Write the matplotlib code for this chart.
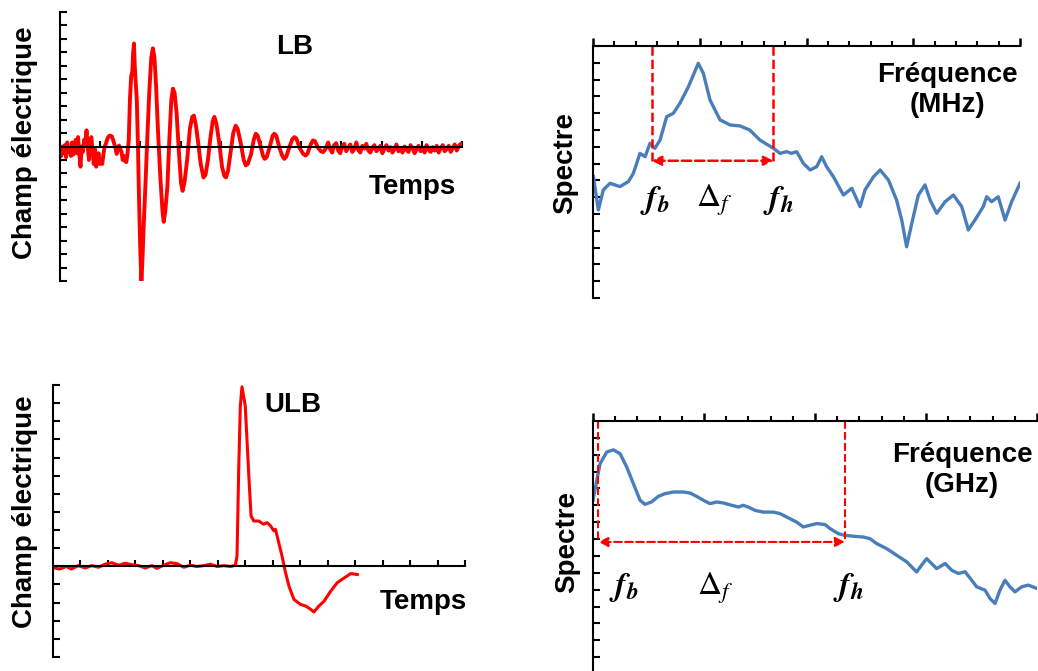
import numpy as np
import matplotlib
matplotlib.use("Agg")
import matplotlib.pyplot as plt
from matplotlib.ticker import MultipleLocator

plt.rcParams["font.family"] = ["Liberation Sans", "DejaVu Sans"]
plt.rcParams["mathtext.fontset"] = "stix"

# LB pulse: pre-trigger noise, ringing burst, tail noise
lb_noise_t = [0.00, 0.03, 0.06, 0.09, 0.12, 0.15, 0.18, 0.21, 0.24, 0.27, 0.30, 0.33, 0.36,
              0.39, 0.42, 0.45, 0.48, 0.51, 0.54, 0.57, 0.60, 0.63, 0.66, 0.69, 0.72, 0.75,
              0.78, 0.81, 0.84, 0.87, 0.90, 0.93, 0.96, 0.99, 1.02, 1.05, 1.08, 1.11, 1.14,
              1.17, 1.20, 1.23, 1.26, 1.29, 1.32, 1.35, 1.38, 1.41, 1.44, 1.47, 1.50, 1.53,
              1.56, 1.59, 1.62, 1.65, 1.68]
lb_noise_e = [-0.1, -0.7, 0.0, -0.5, 0.1, -0.8, 0.3, -0.4, -0.2, -0.7, 0.3, -0.6, -0.3, 0.5,
              -0.5, 0.7, -0.6, -1.5, 0.0, -0.4, 0.5, 0.3, 1.2, 0.0, -1.0, 0.4, 0.7, -0.4, -1.3,
              -0.2, -1.5, -0.8, -0.5, -1.3, -1.0, -1.3, -0.6, 0.0, 0.2, 0.5, 0.7, 0.8, 0.8,
              0.75, 0.5, 0.2, -0.1, -0.55, -0.2, 0.07, -0.2, -0.4, -1.0, -0.7, -1.1, -1.16, -0.5]
lb_burst_t = [1.71, 1.74, 1.77, 1.80, 1.82, 1.84, 1.86, 1.88, 1.91, 1.94, 1.97, 2.00, 2.025,
              2.05, 2.08, 2.13, 2.17, 2.22, 2.27, 2.31, 2.35, 2.39, 2.44, 2.50, 2.55, 2.58,
              2.62, 2.67, 2.72, 2.77, 2.81, 2.85, 2.90, 2.96, 3.01, 3.05, 3.10, 3.17, 3.23,
              3.29, 3.33, 3.38, 3.44, 3.50, 3.57, 3.62, 3.68, 3.74, 3.80, 3.84, 3.89, 3.96,
              4.03, 4.09, 4.13, 4.18, 4.25, 4.31, 4.37, 4.42, 4.50, 4.57, 4.62, 4.67, 4.75,
              4.82, 4.87, 4.92, 5.00, 5.05, 5.09, 5.14, 5.22, 5.29, 5.33, 5.38, 5.46, 5.53,
              5.58, 5.63, 5.71, 5.78, 5.83, 5.88, 5.96, 6.05, 6.11, 6.16, 6.23, 6.29, 6.34,
              6.42, 6.49, 6.54, 6.58]
lb_burst_e = [0.45, 3.5, 5.2, 5.6, 7.0, 7.66, 6.0, 4.9, 3.5, 0.0, -4.5, -8.0, -10.0, -8.5,
              -6.0, -2.5, 0.5, 4.0, 6.6, 7.3, 6.6, 4.5, 1.0, -2.5, -4.8, -5.6, -4.8, -3.0,
              0.5, 3.5, 4.3, 4.0, 2.5, -0.5, -2.7, -3.3, -2.6, -0.8, 1.3, 2.2, 2.3, 1.6, 0.2,
              -1.3, -2.3, -2.1, -1.0, 0.6, 1.9, 2.2, 1.7, 0.3, -1.5, -2.2, -2.3, -1.8, -0.3,
              1.0, 1.55, 1.3, 0.2, -1.0, -1.4, -1.3, -0.6, 0.5, 0.95, 0.8, -0.1, -0.7, -0.92,
              -0.8, 0.0, 0.8, 0.95, 0.8, -0.1, -0.7, -0.92, -0.75, 0.0, 0.55, 0.7, 0.6, -0.1,
              -0.55, -0.67, -0.5, 0.1, 0.45, 0.4, -0.1, -0.35, -0.42, -0.3]
lb_tail_t = [6.62, 6.67, 6.72, 6.77, 6.82, 6.87, 6.92, 6.97, 7.02, 7.07, 7.12, 7.17, 7.22,
             7.27, 7.32, 7.37, 7.42, 7.47, 7.52, 7.57, 7.62, 7.67, 7.72, 7.77, 7.82, 7.87,
             7.92, 7.97, 8.02, 8.07, 8.12, 8.17, 8.22, 8.27, 8.32, 8.37, 8.42, 8.47, 8.52,
             8.57, 8.62, 8.67, 8.72, 8.77, 8.82, 8.87, 8.92, 8.97, 9.02, 9.07, 9.12, 9.17,
             9.22, 9.27, 9.32, 9.37, 9.42, 9.47, 9.52, 9.57, 9.62, 9.67, 9.72, 9.77, 9.82,
             9.87, 9.92, 9.97, 10.0]
lb_tail_e = [-0.1, 0.3, -0.2, -0.45, 0.1, 0.25, -0.3, -0.5, 0.0, 0.2, -0.35, -0.1, 0.15,
             -0.4, -0.2, 0.3, -0.25, -0.45, 0.05, -0.15, 0.2, -0.3, -0.45, -0.1, 0.1, -0.35,
             -0.2, 0.05, -0.5, -0.15, 0.1, -0.3, -0.05, -0.45, -0.2, 0.15, -0.35, -0.1,
             -0.45, 0.0, -0.25, -0.4, 0.1, -0.15, -0.5, -0.2, 0.05, -0.35, -0.1, -0.45, 0.1,
             -0.25, -0.4, -0.05, -0.3, 0.05, -0.45, -0.15, 0.1, -0.35, -0.2, 0.05, -0.4,
             -0.1, 0.15, -0.3, 0.05, 0.2, 0.1]

# ULB pulse
ulb_t = [0.0, 0.24, 0.49, 0.67, 0.92, 1.17, 1.41, 1.66, 1.90, 2.14, 2.39, 2.63, 2.87, 3.12,
         3.36, 3.60, 3.78, 4.03, 4.27, 4.51, 4.76, 5.00, 5.24, 5.49, 5.73, 5.98, 6.22,
         6.46, 6.64, 6.70, 6.76, 6.82, 6.88, 7.00, 7.12, 7.21, 7.31, 7.49, 7.67, 7.80,
         7.92, 8.04, 8.10, 8.22, 8.34, 8.46, 8.59, 8.77, 9.01, 9.20, 9.38, 9.50, 9.68,
         9.87, 10.11, 10.35, 10.60, 10.84, 11.08]
ulb_e = [-0.07, -0.15, -0.01, -0.15, 0.04, -0.09, 0.04, -0.05, 0.12, 0.20, 0.06, 0.17, 0.09,
         0.04, -0.09, 0.04, -0.11, 0.06, 0.20, 0.15, -0.05, 0.06, -0.01, 0.04, 0.12, -0.01,
         0.04, -0.01, 0.06, 0.58, 5.26, 8.84, 9.90, 8.84, 5.26, 2.78, 2.50, 2.50, 2.32,
         2.41, 2.23, 1.96, 2.04, 1.30, 0.56, -0.31, -1.09, -1.82, -2.10, -2.19, -2.37,
         -2.52, -2.19, -1.92, -1.37, -0.90, -0.64, -0.40, -0.45]

# LB spectrum (MHz)
mhz_f = [0.02, 0.25, 0.48, 0.80, 1.26, 1.66, 1.89, 2.20, 2.44, 2.67, 2.90, 3.14, 3.45, 3.76,
         4.07, 4.47, 4.70, 4.93, 5.17, 5.48, 5.95, 6.42, 6.89, 7.34, 7.82, 8.45, 8.76, 9.07,
         9.30, 9.54, 9.85, 10.17, 10.48, 10.71, 10.94, 11.26, 11.73, 12.12, 12.51, 12.74,
         13.14, 13.45, 13.84, 14.22, 14.46, 14.69, 14.93, 15.24, 15.55, 15.79, 16.10,
         16.49, 16.88, 17.27, 17.58, 17.89, 18.28, 18.44, 18.67, 18.98, 19.30, 19.61, 20.0]
mhz_s = [7.22, 5.24, 6.43, 6.83, 6.63, 6.93, 7.42, 8.61, 8.41, 9.21, 8.91, 9.40, 10.79, 10.99,
         11.59, 12.58, 13.27, 13.97, 13.37, 11.79, 10.60, 10.30, 10.24, 10.0, 9.40, 8.91,
         8.61, 8.71, 8.61, 8.71, 8.02, 7.62, 7.82, 8.41, 7.82, 7.22, 6.13, 6.53, 5.44, 6.43,
         7.22, 7.62, 7.02, 5.83, 4.64, 3.05, 4.44, 6.13, 6.73, 5.83, 5.04, 5.73, 6.13, 5.44,
         4.05, 4.64, 5.44, 6.03, 5.73, 6.03, 4.64, 5.73, 6.83]

# ULB spectrum (GHz)
ghz_f = [0.0, 0.17, 0.32, 0.62, 0.92, 1.22, 1.52, 1.82, 2.12, 2.34, 2.64, 2.94, 3.24, 3.62,
         4.07, 4.37, 4.67, 4.97, 5.27, 5.57, 5.87, 6.25, 6.55, 6.77, 6.99, 7.30, 7.67, 8.12,
         8.42, 8.72, 9.17, 9.47, 9.77, 10.08, 10.45, 10.68, 11.05, 11.35, 11.80, 12.18,
         12.48, 12.78, 13.23, 13.68, 14.13, 14.58, 14.80, 15.03, 15.25, 15.48, 15.86,
         16.16, 16.46, 16.76, 17.06, 17.28, 17.66, 17.88, 18.11, 18.33, 18.56, 18.78,
         19.01, 19.31, 19.61, 20.0]
ghz_s = [10.30, 11.48, 12.47, 13.16, 13.29, 13.06, 12.27, 11.28, 10.30, 10.06, 10.20, 10.53,
         10.69, 10.79, 10.79, 10.73, 10.53, 10.30, 10.10, 10.20, 10.14, 10.00, 9.90, 10.00,
         9.90, 9.70, 9.60, 9.60, 9.51, 9.31, 9.01, 8.72, 8.82, 8.92, 8.86, 8.62, 8.32, 8.22,
         8.16, 8.12, 8.02, 7.73, 7.43, 7.04, 6.65, 6.05, 6.45, 6.84, 6.55, 6.25, 6.55, 6.15,
         5.96, 6.06, 5.56, 5.17, 4.97, 4.48, 4.18, 4.97, 5.56, 5.17, 4.87, 5.17, 5.27, 5.07]

# band limits (f_b, f_h) and arrow level
mhz_band = (2.75, 8.45, 8.17)
ghz_band = (0.24, 11.35, 7.83)

W, H = 1038, 671
RED = "#ff0000"
BLUE = "#4a7ebb"
FS = 20


def box(left, top, right, bottom):
    return [left / W, 1 - bottom / H, (right - left) / W, (bottom - top) / H]


def ftext(px, py, s, **kw):
    kw.setdefault("fontsize", FS)
    kw.setdefault("fontweight", "bold")
    fig.text(px / W, 1 - py / H, s, ha="center", va="center", **kw)


def time_axes(ax, xmax, ymin, ymax):
    ax.set_xlim(0, xmax)
    ax.set_ylim(ymin, ymax)
    for s in ["top", "right"]:
        ax.spines[s].set_visible(False)
    ax.spines["bottom"].set_position(("data", 0))
    ax.spines["bottom"].set_linewidth(1.5)
    ax.spines["left"].set_linewidth(1.5)
    ax.set_xticks(np.arange(1, xmax + 1))
    ax.set_yticks(np.arange(ymin, ymax + 1))
    ax.tick_params(axis="x", direction="in", length=4, width=1.5, labelbottom=False)
    ax.tick_params(axis="y", direction="in", length=5, width=1.5, labelleft=False)
    ax.patch.set_visible(False)


def spec_axes(ax):
    ax.set_xlim(0, 20)
    ax.set_ylim(0, 15)
    for s in ["bottom", "right"]:
        ax.spines[s].set_visible(False)
    ax.spines["top"].set_linewidth(1.5)
    ax.spines["left"].set_linewidth(1.5)
    ax.xaxis.tick_top()
    ax.xaxis.set_major_locator(MultipleLocator(5))
    ax.xaxis.set_minor_locator(MultipleLocator(1))
    ax.set_yticks(np.arange(0, 16))
    ax.tick_params(axis="x", which="major", direction="out", length=6, width=1.8, labeltop=False)
    ax.tick_params(axis="x", which="minor", direction="out", length=3.5, width=1.5)
    ax.tick_params(axis="y", direction="in", length=5, width=1.5, labelleft=False)
    ax.patch.set_visible(False)


def band(ax, fb, fh, ya, lw):
    ax.plot([fb, fb], [15, ya], ls="--", color=RED, lw=lw)
    ax.plot([fh, fh], [15, ya], ls="--", color=RED, lw=lw)
    ax.annotate("", xy=(fb, ya), xytext=(fh, ya),
                arrowprops=dict(arrowstyle="<|-|>", ls="--", color=RED, lw=lw,
                                mutation_scale=14, shrinkA=0, shrinkB=0))


def band_labels(ax, xb, xd, xh, y):
    kw = dict(fontsize=24, ha="center", va="center")
    ax.text(xb, y, r"$\mathbfit{f}_{\mathbfit{b}}$", **kw)
    ax.text(xd, y, r"$\Delta_{\mathit{f}}$", **kw)
    ax.text(xh, y, r"$\mathbfit{f}_{\mathbfit{h}}$", **kw)


fig = plt.figure(figsize=(W / 100, H / 100), dpi=100)

# LB time signal
lb_t = lb_noise_t + lb_burst_t + lb_tail_t
lb_e = lb_noise_e + lb_burst_e + lb_tail_e
ax1 = fig.add_axes(box(60, 12, 462, 281))
time_axes(ax1, 10, -10, 10)
ax1.plot(lb_t, lb_e, color=RED, lw=2.8, solid_joinstyle="round")
ftext(25, 143, "Champ électrique", rotation=90)
ftext(295, 47, "LB")
ftext(412, 187, "Temps")

# LB spectrum
ax2 = fig.add_axes(box(593, 46, 1020, 298))
spec_axes(ax2)
ax2.plot(mhz_f, mhz_s, color=BLUE, lw=2.4)
band(ax2, *mhz_band, lw=1.8)
ftext(565, 163, "Spectre", rotation=90)
ftext(947, 90, "Fréquence\n(MHz)", linespacing=1.2)
band_labels(ax2, 2.9, 5.7, 8.7, 5.8)

# ULB time signal
ax3 = fig.add_axes(box(53, 385, 465, 657))
time_axes(ax3, 15, -5, 10)
ax3.plot(ulb_t, ulb_e, color=RED, lw=2.2)
ftext(25, 512, "Champ électrique", rotation=90)
ftext(293, 405, "ULB")
ftext(423, 602, "Temps")

# ULB spectrum
ax4 = fig.add_axes(box(593, 421, 1037, 674))
spec_axes(ax4)
ax4.plot(ghz_f, ghz_s, color=BLUE, lw=2.4)
band(ax4, *ghz_band, lw=1.5)
ftext(567, 542, "Spectre", rotation=90)
ftext(962, 470, "Fréquence\n(GHz)", linespacing=1.2)
band_labels(ax4, 1.4, 5.5, 11.5, 5.1)

fig.savefig("out.png", dpi=100)
